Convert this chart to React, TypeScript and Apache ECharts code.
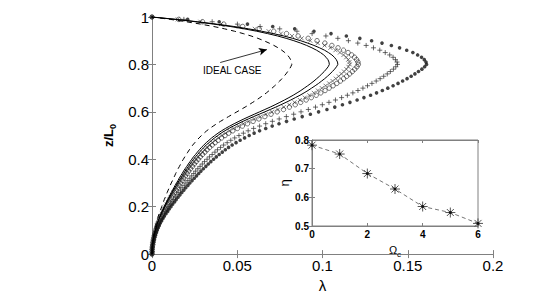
import React, { useEffect, useRef } from "react";
import * as echarts from "echarts";

// heights z/L0 in percent (shared sampling grid of all curves)
const zPct = [
  0, 1, 2, 3, 4, 5, 6, 7, 8, 9, 10, 11, 12, 13, 14, 15, 16, 17, 18, 19,
  20, 21, 22, 23, 24, 25, 26, 27, 28, 29, 30, 31, 32, 33, 34, 35, 36, 37, 38, 39,
  40, 41, 42, 43, 44, 45, 46, 47, 48, 49, 50, 51, 52, 53, 54, 55, 56, 57, 58, 59,
  60, 61, 62, 63, 64, 65, 66, 67, 68, 69, 70, 71, 72, 73, 74, 75, 76, 77, 78, 79,
  80, 81, 82, 83, 84, 85, 86, 87, 88, 89, 90, 91, 92, 93, 94, 95, 96, 97, 98, 99, 100,
];

// lambda values in units of 1e-4, one per height
const lamIdeal = [
  0, 1, 1, 2, 2, 4, 6, 7, 10, 12, 15, 18, 21, 25, 29, 33, 37, 42, 47, 52,
  57, 62, 67, 72, 78, 84, 89, 95, 101, 107, 113, 120, 126, 133, 139, 146, 153, 161, 168, 175,
  184, 192, 201, 210, 219, 229, 239, 251, 263, 276, 290, 305, 321, 339, 359, 380, 402, 425, 449, 473,
  498, 522, 546, 569, 591, 613, 633, 653, 671, 688, 704, 720, 735, 749, 762, 774, 786, 796, 806, 814,
  820, 818, 813, 805, 794, 779, 761, 740, 715, 687, 656, 621, 581, 535, 484, 426, 361, 285, 201, 107, 0,
];
const lamLine1 = [
  0, 1, 1, 2, 3, 5, 7, 9, 12, 16, 19, 23, 27, 31, 36, 42, 47, 53, 59, 66,
  72, 78, 85, 92, 99, 106, 113, 121, 128, 136, 144, 152, 160, 168, 177, 185, 194, 204, 213, 223,
  233, 243, 255, 266, 278, 290, 304, 318, 334, 350, 368, 387, 408, 431, 456, 482, 510, 539, 569, 600,
  631, 662, 693, 722, 750, 777, 803, 828, 851, 873, 893, 913, 932, 950, 966, 982, 996, 1010, 1022, 1033,
  1040, 1038, 1032, 1021, 1007, 988, 965, 938, 907, 872, 832, 787, 736, 678, 614, 541, 458, 362, 255, 135, 0,
];
const lamLine2 = [
  0, 1, 1, 2, 3, 5, 8, 10, 13, 16, 20, 24, 28, 33, 38, 44, 49, 56, 62, 69,
  75, 82, 89, 96, 104, 111, 119, 126, 134, 143, 150, 159, 168, 177, 185, 194, 204, 214, 223, 233,
  244, 255, 267, 279, 291, 304, 318, 334, 350, 367, 386, 405, 427, 451, 477, 505, 534, 565, 596, 629,
  662, 694, 726, 756, 786, 814, 841, 868, 892, 915, 936, 957, 977, 995, 1013, 1029, 1044, 1058, 1071, 1082,
  1090, 1088, 1081, 1070, 1055, 1035, 1012, 983, 950, 913, 872, 825, 772, 711, 643, 567, 480, 379, 267, 142, 0,
];
const lamCross = [
  0, 1, 1, 2, 3, 6, 8, 10, 14, 17, 21, 26, 30, 35, 41, 46, 52, 59, 66, 73,
  80, 87, 95, 102, 110, 118, 126, 135, 143, 152, 160, 169, 179, 188, 197, 206, 217, 227, 238, 248,
  260, 271, 284, 297, 310, 324, 339, 355, 372, 391, 411, 432, 455, 480, 508, 537, 568, 601, 635, 669,
  704, 739, 773, 805, 836, 867, 896, 923, 949, 973, 996, 1018, 1039, 1059, 1078, 1095, 1111, 1126, 1140, 1152,
  1160, 1158, 1151, 1139, 1123, 1102, 1076, 1046, 1012, 972, 928, 878, 821, 756, 684, 603, 510, 404, 284, 151, 0,
];
const lamCircle = [
  0, 1, 1, 2, 4, 6, 8, 11, 15, 18, 22, 27, 31, 36, 42, 48, 54, 62, 69, 76,
  83, 91, 99, 106, 115, 123, 132, 140, 149, 158, 167, 177, 186, 196, 206, 215, 226, 237, 248, 259,
  271, 283, 296, 310, 323, 338, 353, 370, 388, 408, 428, 450, 474, 501, 530, 560, 593, 627, 662, 698,
  734, 771, 806, 840, 872, 904, 934, 963, 990, 1015, 1039, 1062, 1084, 1105, 1124, 1142, 1159, 1175, 1189, 1202,
  1210, 1208, 1200, 1188, 1171, 1150, 1123, 1091, 1055, 1014, 968, 916, 857, 789, 714, 629, 532, 421, 296, 157, 0,
];
const lamPlus = [
  0, 1, 1, 3, 4, 7, 10, 13, 17, 22, 26, 32, 37, 43, 50, 58, 65, 73, 82, 91,
  99, 108, 118, 127, 137, 147, 157, 167, 177, 189, 199, 210, 222, 233, 245, 256, 269, 282, 295, 308,
  323, 337, 353, 369, 384, 402, 420, 441, 462, 485, 510, 536, 564, 596, 631, 667, 706, 746, 788, 831,
  874, 917, 959, 999, 1038, 1076, 1112, 1146, 1178, 1208, 1237, 1264, 1290, 1315, 1338, 1359, 1380, 1398, 1416, 1430,
  1440, 1437, 1428, 1414, 1394, 1368, 1336, 1299, 1256, 1207, 1152, 1090, 1020, 939, 850, 749, 634, 501, 353, 187, 0,
];
const lamStar = [
  0, 2, 2, 3, 5, 8, 11, 14, 19, 24, 29, 35, 42, 48, 56, 64, 72, 82, 92, 101,
  111, 121, 132, 142, 153, 164, 175, 187, 198, 211, 222, 235, 248, 261, 274, 287, 301, 316, 330, 345,
  361, 377, 394, 412, 430, 449, 470, 493, 517, 543, 570, 599, 631, 667, 705, 745, 789, 834, 881, 929,
  977, 1026, 1072, 1117, 1161, 1203, 1243, 1282, 1317, 1351, 1383, 1414, 1443, 1470, 1496, 1520, 1542, 1563, 1583, 1599,
  1610, 1607, 1597, 1581, 1558, 1530, 1494, 1452, 1404, 1349, 1288, 1219, 1140, 1050, 950, 837, 708, 560, 394, 209, 0,
];

// inset: efficiency eta versus Omega_c
const omegaC = [0, 1, 2, 3, 4, 5, 6];
const eta = [0.782, 0.751, 0.683, 0.629, 0.568, 0.547, 0.509];

const FONT = "Liberation Sans";
const AXIS_GREY = "#808080";

const toPts = (lam: number[]) => lam.map((v, i) => [v / 10000, zPct[i] / 100]);

const PLUS = "path://M5 0L5 10M0 5L10 5";
const CROSS = "path://M0 0L10 10M0 10L10 0";
const ASTER = "path://M5 0L5 10M0 5L10 5M1.5 1.5L8.5 8.5M1.5 8.5L8.5 1.5";

export default function App() {
  const ref = useRef<HTMLDivElement>(null);
  useEffect(() => {
    if (!ref.current) return;
    const chart = echarts.init(ref.current, null, { renderer: "svg" });
    const hideAxis = {
      axisLabel: { show: false },
      axisTick: { inside: true, length: 4, lineStyle: { color: AXIS_GREY } },
      axisLine: { show: true, lineStyle: { color: AXIS_GREY } },
      splitLine: { show: false },
    };
    const mainTick = { inside: true, length: 4, lineStyle: { color: AXIS_GREY } };
    const mainLabel = { color: "#000", fontSize: 15, fontFamily: FONT };
    const insetLabel = { color: "#000", fontSize: 10, fontWeight: "bold" as const, fontFamily: FONT };

    chart.setOption({
      animation: false,
      backgroundColor: "#fff",
      grid: [
        { left: 152, top: 17, width: 341, height: 240, show: false },
        {
          left: 312, top: 140, width: 166, height: 86, show: true,
          backgroundColor: "#fff", borderColor: AXIS_GREY, borderWidth: 1, z: 5,
        },
      ],
      xAxis: [
        {
          type: "value", gridIndex: 0, min: 0, max: 0.2, interval: 0.05,
          axisLine: { show: true, onZero: false, lineStyle: { color: AXIS_GREY } },
          axisTick: mainTick, splitLine: { show: false },
          axisLabel: { ...mainLabel, margin: 4 },
          name: "λ", nameLocation: "middle", nameGap: 20,
          nameTextStyle: { color: "#000", fontSize: 15, fontFamily: FONT },
        },
        { type: "value", gridIndex: 0, min: 0, max: 0.2, interval: 0.05, position: "top", ...hideAxis },
        {
          type: "value", gridIndex: 1, min: 0, max: 6, interval: 2, z: 6,
          axisLine: { show: true, onZero: false, lineStyle: { color: AXIS_GREY } },
          axisTick: { inside: true, length: 3, lineStyle: { color: AXIS_GREY } },
          splitLine: { show: false },
          axisLabel: { ...insetLabel, margin: 3 },
          name: "{a|Ω}{b|c}", nameLocation: "middle", nameGap: 15,
          nameTextStyle: {
            rich: {
              a: { fontSize: 11, fontFamily: FONT, color: "#000" },
              b: { fontSize: 8, fontFamily: FONT, color: "#000", padding: [9, 0, 0, 0] },
            },
          },
        },
        { type: "value", gridIndex: 1, min: 0, max: 6, interval: 2, position: "top", z: 6, ...hideAxis,
          axisTick: { inside: true, length: 3, lineStyle: { color: AXIS_GREY } } },
      ],
      yAxis: [
        {
          type: "value", gridIndex: 0, min: 0, max: 1, interval: 0.2,
          axisLine: { show: true, onZero: false, lineStyle: { color: AXIS_GREY } },
          axisTick: mainTick, splitLine: { show: false },
          axisLabel: { ...mainLabel, margin: 3 },
          name: "{a|z/L}{b|0}", nameLocation: "middle", nameGap: 24,
          nameTextStyle: {
            rich: {
              a: { fontSize: 13, fontWeight: "bold", fontFamily: FONT, color: "#000" },
              b: { fontSize: 9, fontWeight: "bold", fontFamily: FONT, color: "#000", padding: [8, 0, 0, 0] },
            },
          },
        },
        { type: "value", gridIndex: 0, min: 0, max: 1, interval: 0.2, position: "right", ...hideAxis },
        {
          type: "value", gridIndex: 1, min: 0.5, max: 0.8, interval: 0.1, z: 6,
          axisLine: { show: true, onZero: false, lineStyle: { color: AXIS_GREY } },
          axisTick: { inside: true, length: 3, lineStyle: { color: AXIS_GREY } },
          splitLine: { show: false },
          axisLabel: { ...insetLabel, margin: 3 },
          name: "η", nameLocation: "middle", nameGap: 21,
          nameTextStyle: { fontSize: 13, fontFamily: FONT, color: "#000" },
        },
        { type: "value", gridIndex: 1, min: 0.5, max: 0.8, interval: 0.1, position: "right", z: 6, ...hideAxis,
          axisTick: { inside: true, length: 3, lineStyle: { color: AXIS_GREY } } },
      ],
      graphic: [
        {
          type: "text", left: 203, top: 65, z: 10,
          style: { text: "IDEAL CASE", fontSize: 10, fontFamily: FONT, fill: "#000" },
        },
      ],
      series: [
        {
          type: "line", data: toPts(lamIdeal), showSymbol: false, xAxisIndex: 0, yAxisIndex: 0,
          lineStyle: { color: "#000", width: 1, type: [5, 4] },
          markLine: {
            silent: true, symbol: ["none", "arrow"], symbolSize: [6, 8],
            lineStyle: { color: "#000", width: 0.8, type: "solid" },
            label: { show: false },
            data: [[{ coord: [0.04, 0.808] }, { coord: [0.0674, 0.8625] }]],
          },
        },
        {
          type: "line", data: toPts(lamLine1), showSymbol: false,
          lineStyle: { color: "#000", width: 1 },
        },
        {
          type: "line", data: toPts(lamLine2), showSymbol: false,
          lineStyle: { color: "#000", width: 1 },
        },
        {
          type: "scatter", data: toPts(lamCross), symbol: CROSS, symbolSize: 4,
          itemStyle: { color: "none", borderColor: "#333", borderWidth: 0.8 },
        },
        {
          type: "scatter", data: toPts(lamCircle), symbol: "circle", symbolSize: 4.5,
          itemStyle: { color: "none", borderColor: "#222", borderWidth: 0.8 },
        },
        {
          type: "scatter", data: toPts(lamPlus), symbol: PLUS, symbolSize: 5,
          itemStyle: { color: "none", borderColor: "#333", borderWidth: 0.9 },
        },
        {
          type: "scatter", data: toPts(lamStar), symbol: "circle", symbolSize: 3.6,
          itemStyle: { color: "#111" },
        },
        {
          type: "line", xAxisIndex: 2, yAxisIndex: 2, z: 7,
          data: omegaC.map((o, i) => [o, eta[i]]),
          symbol: ASTER, symbolSize: 10,
          lineStyle: { color: "#777", width: 1, type: [4, 3] },
          itemStyle: { color: "none", borderColor: "#555", borderWidth: 1 },
        },
        {
          type: "scatter", xAxisIndex: 2, yAxisIndex: 2, z: 8,
          data: omegaC.map((o, i) => [o, eta[i]]),
          symbol: "circle", symbolSize: 3, itemStyle: { color: "#000" },
        },
      ],
    });
    return () => chart.dispose();
  }, []);
  return (
    <div
      ref={ref}
      style={{ position: "fixed", left: 0, top: 0, width: 545, height: 298, background: "#fff" }}
    />
  );
}
